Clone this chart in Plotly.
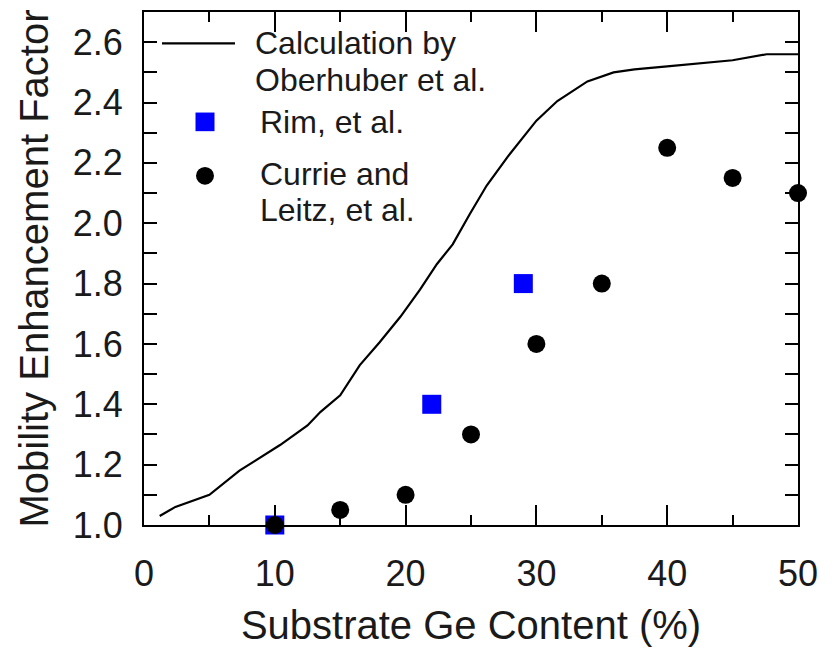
import plotly.graph_objects as go

# Calculation by Oberhuber et al. (curve)
calc_x = [1.2, 2.4, 5.0, 7.3, 10.4, 12.5, 13.5, 15.0, 16.5, 18.0, 19.6, 21.1, 22.4,
          23.6, 24.9, 26.2, 27.8, 30.0, 31.6, 33.9, 35.9, 37.5, 40.0, 45.0, 47.6, 50.0]
calc_y = [1.03, 1.06, 1.10, 1.18, 1.265, 1.33, 1.375, 1.43, 1.53, 1.605, 1.69, 1.78, 1.865,
          1.93, 2.03, 2.125, 2.22, 2.34, 2.405, 2.47, 2.50, 2.51, 2.52, 2.54, 2.56, 2.56]

# Rim, et al.
rim_x = [10, 22, 29]
rim_y = [1.0, 1.4, 1.8]

# Currie and Leitz, et al.
currie_x = [10, 15, 20, 25, 30, 35, 40, 45, 50]
currie_y = [1.0, 1.05, 1.1, 1.3, 1.6, 1.8, 2.25, 2.15, 2.1]

x_ticks = [0, 10, 20, 30, 40, 50]
y_ticks = [1.0, 1.2, 1.4, 1.6, 1.8, 2.0, 2.2, 2.4, 2.6]

legend_calc = ["Calculation by", "Oberhuber et al."]
legend_rim = ["Rim, et al."]
legend_currie = ["Currie and", "Leitz, et al."]

FONT = "Liberation Sans, Arial, sans-serif"
TXT = "#1a1a1a"

fig = go.Figure()
fig.add_trace(go.Scatter(x=calc_x, y=calc_y, mode="lines",
                         line=dict(color="black", width=2.2),
                         name="Calculation by Oberhuber et al.", showlegend=False))
fig.add_trace(go.Scatter(x=rim_x, y=rim_y, mode="markers",
                         marker=dict(symbol="square", size=19, color="#0000ff"),
                         name="Rim, et al.", showlegend=False, cliponaxis=False))
fig.add_trace(go.Scatter(x=currie_x, y=currie_y, mode="markers",
                         marker=dict(symbol="circle", size=18, color="black"),
                         name="Currie and Leitz, et al.", showlegend=False, cliponaxis=False))

W, H = 834, 650
L, R, T, B = 144, 36, 10, 117
pw, ph = W - L - R, H - T - B


def px(xp):
    return (xp - L) / pw


def py(yp):
    return (H - B - yp) / ph


# legend drawn inside the plot, top-left
shapes = [
    dict(type="line", xref="paper", yref="paper", x0=px(162), x1=px(235), y0=py(42), y1=py(42),
         line=dict(color="black", width=2.2)),
    dict(type="rect", xref="paper", yref="paper", x0=px(195.5), x1=px(214.5), y0=py(131.5), y1=py(112.5),
         fillcolor="#0000ff", line=dict(width=0)),
    dict(type="circle", xref="paper", yref="paper", x0=px(196), x1=px(214), y0=py(186), y1=py(168),
         fillcolor="black", line=dict(width=0)),
]
annotations = []
for lines, xpos, ys in [(legend_calc, 253, [42, 79]), (legend_rim, 258, [122]),
                        (legend_currie, 258, [175, 212])]:
    for t, yy in zip(lines, ys):
        annotations.append(dict(text=t, xref="paper", yref="paper", x=px(xpos), y=py(yy),
                                xanchor="left", yanchor="middle", showarrow=False,
                                font=dict(family=FONT, size=32, color=TXT)))

fig.update_layout(
    width=W, height=H,
    margin=dict(l=L, r=R, t=T, b=B),
    paper_bgcolor="white", plot_bgcolor="white",
    shapes=shapes, annotations=annotations,
    font=dict(family=FONT, color=TXT),
    xaxis=dict(range=[0, 50], tickvals=x_ticks, ticks="inside", ticklen=20, tickwidth=2,
               tickcolor="black", showline=True, linecolor="black", linewidth=2.2,
               mirror="allticks", showgrid=False, zeroline=False,
               tickfont=dict(family=FONT, size=36, color=TXT), ticklabelstandoff=16,
               minor=dict(dtick=5, tick0=0, ticks="inside", ticklen=10, tickwidth=2,
                          tickcolor="black", showgrid=False),
               title=dict(text="Substrate Ge Content (%)", standoff=18,
                          font=dict(family=FONT, size=40, color=TXT))),
    yaxis=dict(range=[1.0, 2.7], tickvals=y_ticks, tickformat=".1f", ticks="inside",
               ticklen=13, tickwidth=2, tickcolor="black", showline=True,
               linecolor="black", linewidth=2.2, mirror="allticks", showgrid=False,
               zeroline=False, tickfont=dict(family=FONT, size=36, color=TXT),
               ticklabelstandoff=12,
               minor=dict(dtick=0.1, tick0=1.0, ticks="inside", ticklen=13, tickwidth=2,
                          tickcolor="black", showgrid=False),
               title=dict(text="Mobility Enhancement Factor", standoff=12,
                          font=dict(family=FONT, size=40, color=TXT))),
)

fig.write_html("out.html")
